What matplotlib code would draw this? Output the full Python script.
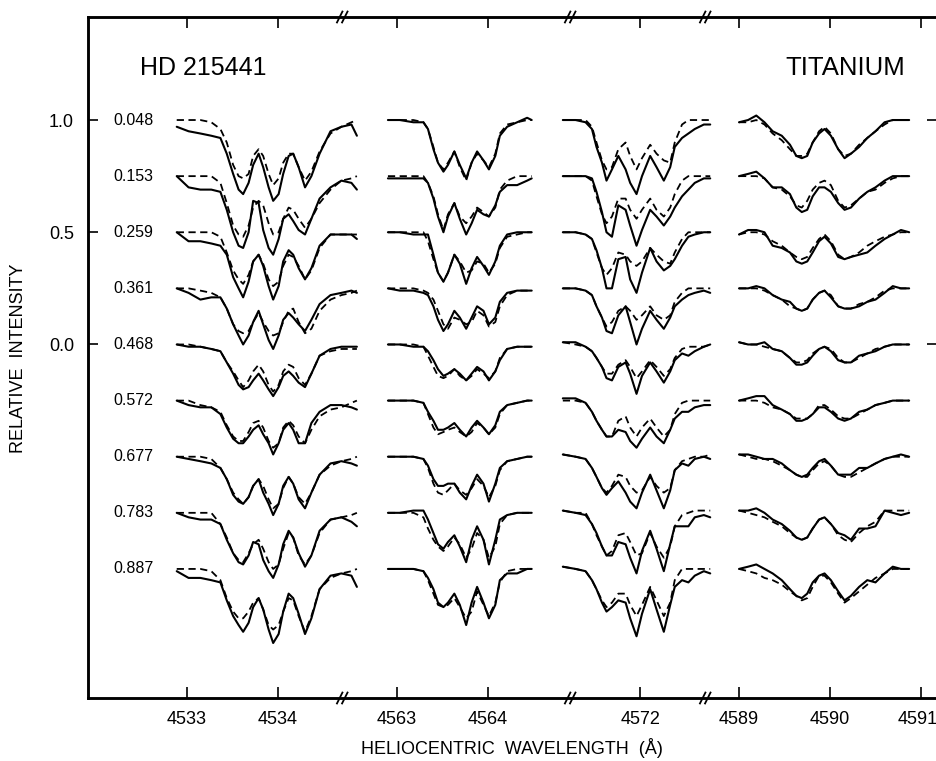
import matplotlib
matplotlib.use('Agg')
import matplotlib.pyplot as plt
from matplotlib.transforms import blended_transform_factory

plt.rcParams['font.family'] = ['Liberation Sans', 'DejaVu Sans']

# rotational phases, one spectrum per phase (offset by 0.25 each)
phases = ['0.048', '0.153', '0.259', '0.361', '0.468', '0.572', '0.677', '0.783', '0.887']

# ---- panel 1 : Ti II 4533.97
p1_wave = [4532.89, 4533.02, 4533.15, 4533.27, 4533.37, 4533.44, 4533.51, 4533.57, 4533.62,
           4533.68, 4533.73, 4533.79, 4533.84, 4533.90, 4533.95, 4534.01, 4534.06, 4534.12,
           4534.17, 4534.23, 4534.30, 4534.37, 4534.46, 4534.58, 4534.70, 4534.81, 4534.87]
p1_obs = [
    [0.97, 0.95, 0.94, 0.93, 0.92, 0.85, 0.76, 0.69, 0.67, 0.72, 0.80, 0.85, 0.79, 0.70, 0.64, 0.67, 0.76, 0.84, 0.85, 0.79, 0.70, 0.75, 0.85, 0.95, 0.97, 0.98, 0.93],
    [1.00, 0.95, 0.94, 0.94, 0.93, 0.85, 0.75, 0.69, 0.68, 0.75, 0.89, 0.88, 0.76, 0.68, 0.65, 0.72, 0.81, 0.83, 0.80, 0.76, 0.74, 0.81, 0.90, 0.95, 0.98, 0.97, 0.94],
    [1.00, 0.96, 0.96, 0.95, 0.94, 0.90, 0.80, 0.75, 0.71, 0.78, 0.87, 0.90, 0.85, 0.76, 0.70, 0.76, 0.87, 0.92, 0.90, 0.84, 0.79, 0.84, 0.94, 0.99, 0.99, 0.99, 0.97],
    [1.00, 0.98, 0.95, 0.96, 0.96, 0.91, 0.84, 0.79, 0.75, 0.79, 0.85, 0.90, 0.84, 0.77, 0.73, 0.79, 0.86, 0.89, 0.87, 0.84, 0.81, 0.86, 0.93, 0.97, 0.98, 0.99, 0.98],
    [1.00, 0.99, 0.99, 0.98, 0.97, 0.92, 0.87, 0.82, 0.80, 0.81, 0.84, 0.87, 0.84, 0.80, 0.77, 0.81, 0.86, 0.88, 0.86, 0.83, 0.81, 0.87, 0.95, 0.98, 0.99, 0.99, 0.99],
    [1.00, 0.98, 0.97, 0.97, 0.94, 0.88, 0.83, 0.81, 0.81, 0.84, 0.87, 0.89, 0.85, 0.81, 0.76, 0.81, 0.87, 0.90, 0.87, 0.81, 0.81, 0.90, 0.95, 0.98, 0.98, 0.97, 0.96],
    [1.00, 0.99, 0.98, 0.97, 0.95, 0.90, 0.83, 0.80, 0.79, 0.82, 0.87, 0.90, 0.84, 0.79, 0.74, 0.79, 0.87, 0.91, 0.88, 0.81, 0.77, 0.84, 0.92, 0.97, 0.98, 0.97, 0.96],
    [1.00, 0.98, 0.97, 0.97, 0.95, 0.88, 0.82, 0.78, 0.77, 0.81, 0.87, 0.86, 0.79, 0.74, 0.71, 0.77, 0.86, 0.92, 0.89, 0.82, 0.76, 0.81, 0.92, 0.97, 0.98, 0.96, 0.94],
    [0.99, 0.96, 0.96, 0.95, 0.94, 0.86, 0.79, 0.75, 0.72, 0.76, 0.83, 0.87, 0.82, 0.73, 0.67, 0.71, 0.81, 0.89, 0.87, 0.80, 0.71, 0.78, 0.91, 0.97, 0.98, 0.97, 0.92],
]
p1_calc = [
    [1.00, 1.00, 1.00, 0.99, 0.96, 0.90, 0.80, 0.75, 0.74, 0.76, 0.84, 0.87, 0.84, 0.76, 0.71, 0.74, 0.81, 0.85, 0.85, 0.79, 0.73, 0.77, 0.86, 0.94, 0.97, 0.99, 1.00],
    [1.00, 1.00, 1.00, 1.00, 0.97, 0.88, 0.78, 0.74, 0.73, 0.78, 0.86, 0.89, 0.87, 0.79, 0.74, 0.75, 0.81, 0.86, 0.85, 0.81, 0.77, 0.81, 0.88, 0.94, 0.98, 0.99, 1.00],
    [1.00, 1.00, 1.00, 1.00, 0.98, 0.91, 0.83, 0.79, 0.77, 0.81, 0.87, 0.90, 0.86, 0.79, 0.76, 0.78, 0.85, 0.90, 0.89, 0.85, 0.79, 0.83, 0.93, 0.99, 0.99, 0.99, 0.99],
    [1.00, 1.00, 0.99, 0.98, 0.96, 0.91, 0.84, 0.81, 0.80, 0.81, 0.85, 0.89, 0.85, 0.81, 0.79, 0.80, 0.85, 0.90, 0.91, 0.85, 0.80, 0.82, 0.90, 0.95, 0.97, 0.98, 0.99],
    [1.00, 1.00, 0.99, 0.98, 0.97, 0.92, 0.88, 0.84, 0.81, 0.84, 0.88, 0.91, 0.88, 0.82, 0.79, 0.82, 0.88, 0.91, 0.90, 0.85, 0.82, 0.87, 0.95, 0.97, 0.98, 0.98, 0.98],
    [1.00, 1.00, 0.98, 0.97, 0.95, 0.89, 0.84, 0.82, 0.82, 0.86, 0.90, 0.91, 0.88, 0.82, 0.79, 0.81, 0.88, 0.91, 0.89, 0.84, 0.81, 0.87, 0.93, 0.96, 0.97, 0.99, 1.00],
    [1.00, 1.00, 1.00, 0.99, 0.95, 0.90, 0.84, 0.81, 0.79, 0.82, 0.87, 0.90, 0.87, 0.81, 0.77, 0.79, 0.86, 0.91, 0.88, 0.82, 0.79, 0.84, 0.92, 0.96, 0.98, 0.99, 1.00],
    [1.00, 1.00, 1.00, 1.00, 0.95, 0.89, 0.82, 0.79, 0.78, 0.82, 0.86, 0.88, 0.84, 0.78, 0.75, 0.77, 0.84, 0.91, 0.89, 0.81, 0.77, 0.81, 0.91, 0.97, 0.98, 0.99, 1.00],
    [1.00, 1.00, 1.00, 0.99, 0.95, 0.87, 0.81, 0.78, 0.78, 0.81, 0.85, 0.87, 0.82, 0.75, 0.73, 0.75, 0.81, 0.87, 0.86, 0.79, 0.72, 0.79, 0.91, 0.96, 0.98, 0.99, 1.00],
]

# ---- panel 2 : Ti I 4563.76
p2_wave = [4562.90, 4563.03, 4563.18, 4563.29, 4563.34, 4563.40, 4563.45, 4563.51, 4563.56, 4563.63, 4563.69,
           4563.76, 4563.82, 4563.88, 4563.95, 4564.01, 4564.08, 4564.13, 4564.21, 4564.32, 4564.43, 4564.48]
p2_obs = [
    [1.00, 1.00, 0.99, 0.99, 0.96, 0.87, 0.81, 0.77, 0.80, 0.86, 0.80, 0.74, 0.81, 0.86, 0.82, 0.78, 0.84, 0.93, 0.97, 0.99, 1.01, 1.00],
    [0.99, 0.99, 0.99, 0.99, 0.97, 0.90, 0.82, 0.75, 0.82, 0.88, 0.81, 0.74, 0.79, 0.85, 0.83, 0.82, 0.87, 0.93, 0.96, 0.96, 0.98, 0.99],
    [1.00, 1.00, 0.99, 0.99, 0.99, 0.90, 0.82, 0.78, 0.82, 0.90, 0.86, 0.77, 0.84, 0.89, 0.85, 0.81, 0.87, 0.94, 0.99, 1.00, 1.00, 1.00],
    [1.00, 0.99, 0.99, 0.98, 0.97, 0.92, 0.86, 0.81, 0.84, 0.90, 0.87, 0.82, 0.87, 0.92, 0.90, 0.84, 0.87, 0.94, 0.98, 0.99, 0.99, 0.99],
    [1.00, 1.00, 0.99, 0.99, 0.97, 0.93, 0.89, 0.86, 0.87, 0.89, 0.87, 0.84, 0.87, 0.90, 0.88, 0.84, 0.88, 0.93, 0.98, 0.99, 0.99, 0.99],
    [1.00, 1.00, 1.00, 0.99, 0.95, 0.91, 0.87, 0.87, 0.88, 0.90, 0.87, 0.84, 0.88, 0.91, 0.88, 0.85, 0.89, 0.95, 0.98, 0.99, 1.00, 1.00],
    [1.00, 1.00, 1.00, 0.99, 0.96, 0.90, 0.87, 0.87, 0.88, 0.88, 0.84, 0.81, 0.87, 0.92, 0.88, 0.80, 0.88, 0.95, 0.98, 0.99, 1.00, 1.00],
    [1.00, 1.00, 1.01, 1.01, 0.97, 0.91, 0.86, 0.84, 0.87, 0.90, 0.85, 0.78, 0.88, 0.94, 0.88, 0.77, 0.88, 0.97, 0.99, 1.00, 1.00, 1.00],
    [1.00, 1.00, 1.00, 0.99, 0.96, 0.91, 0.85, 0.83, 0.85, 0.89, 0.84, 0.75, 0.85, 0.92, 0.85, 0.78, 0.84, 0.95, 0.98, 0.98, 1.00, 1.00],
]
p2_calc = [
    [1.00, 1.00, 1.00, 0.99, 0.96, 0.88, 0.81, 0.78, 0.81, 0.86, 0.79, 0.73, 0.81, 0.85, 0.82, 0.79, 0.85, 0.94, 0.98, 0.99, 1.00, 1.00],
    [1.00, 1.00, 1.00, 1.00, 0.97, 0.91, 0.83, 0.76, 0.83, 0.88, 0.82, 0.79, 0.82, 0.86, 0.84, 0.82, 0.86, 0.94, 0.98, 1.00, 1.00, 1.00],
    [1.00, 1.00, 1.00, 1.00, 0.96, 0.88, 0.82, 0.78, 0.82, 0.90, 0.87, 0.82, 0.83, 0.87, 0.86, 0.82, 0.86, 0.93, 0.98, 0.99, 1.00, 1.00],
    [1.00, 1.00, 1.00, 0.99, 0.98, 0.95, 0.90, 0.84, 0.82, 0.87, 0.86, 0.84, 0.85, 0.90, 0.88, 0.83, 0.85, 0.92, 0.97, 0.99, 0.99, 0.99],
    [1.00, 1.00, 1.00, 0.99, 0.95, 0.90, 0.86, 0.85, 0.86, 0.89, 0.86, 0.84, 0.86, 0.89, 0.87, 0.85, 0.88, 0.94, 0.98, 0.99, 0.99, 0.99],
    [1.00, 1.00, 1.00, 0.99, 0.94, 0.88, 0.85, 0.86, 0.87, 0.88, 0.86, 0.84, 0.86, 0.90, 0.88, 0.85, 0.88, 0.94, 0.98, 0.99, 1.00, 1.00],
    [1.00, 1.00, 1.00, 0.99, 0.95, 0.88, 0.84, 0.83, 0.85, 0.88, 0.85, 0.83, 0.86, 0.90, 0.87, 0.82, 0.87, 0.94, 0.98, 0.99, 1.00, 1.00],
    [1.00, 1.00, 1.00, 0.98, 0.93, 0.88, 0.85, 0.83, 0.85, 0.89, 0.86, 0.80, 0.84, 0.91, 0.88, 0.80, 0.85, 0.95, 0.99, 1.00, 1.00, 1.00],
    [1.00, 1.00, 1.00, 0.99, 0.95, 0.89, 0.84, 0.83, 0.84, 0.87, 0.83, 0.78, 0.81, 0.90, 0.84, 0.79, 0.85, 0.94, 0.99, 1.00, 1.00, 1.00],
]

# ---- panel 3 : Ti II 4571.97
p3_wave = [4571.15, 4571.29, 4571.40, 4571.47, 4571.52, 4571.58, 4571.63, 4571.69, 4571.76, 4571.84, 4571.89, 4571.96,
           4572.02, 4572.11, 4572.18, 4572.26, 4572.33, 4572.38, 4572.46, 4572.53, 4572.60, 4572.70, 4572.77]
p3_obs = [
    [1.00, 1.00, 0.99, 0.96, 0.88, 0.81, 0.73, 0.78, 0.84, 0.78, 0.72, 0.67, 0.75, 0.84, 0.79, 0.73, 0.79, 0.88, 0.92, 0.94, 0.96, 0.98, 0.98],
    [1.00, 1.00, 1.00, 0.99, 0.93, 0.84, 0.75, 0.73, 0.87, 0.85, 0.78, 0.69, 0.76, 0.85, 0.82, 0.78, 0.82, 0.86, 0.91, 0.94, 0.97, 0.99, 0.99],
    [1.00, 1.00, 0.99, 0.97, 0.92, 0.84, 0.75, 0.75, 0.88, 0.89, 0.79, 0.73, 0.82, 0.93, 0.87, 0.83, 0.85, 0.88, 0.94, 0.98, 0.99, 1.00, 1.00],
    [1.00, 1.00, 0.99, 0.97, 0.92, 0.87, 0.81, 0.80, 0.88, 0.92, 0.85, 0.75, 0.82, 0.90, 0.86, 0.82, 0.87, 0.92, 0.95, 0.97, 0.98, 0.99, 0.98],
    [1.01, 1.01, 0.99, 0.97, 0.94, 0.90, 0.85, 0.84, 0.90, 0.92, 0.87, 0.78, 0.86, 0.92, 0.88, 0.83, 0.88, 0.93, 0.96, 0.95, 0.97, 0.99, 1.00],
    [1.01, 1.01, 0.99, 0.95, 0.91, 0.87, 0.84, 0.84, 0.87, 0.86, 0.82, 0.79, 0.83, 0.88, 0.84, 0.81, 0.87, 0.92, 0.95, 0.95, 0.97, 0.98, 0.98],
    [1.01, 1.00, 0.99, 0.95, 0.91, 0.86, 0.83, 0.86, 0.89, 0.84, 0.80, 0.77, 0.84, 0.92, 0.85, 0.77, 0.85, 0.94, 0.97, 0.96, 0.99, 1.00, 0.99],
    [1.01, 1.00, 0.99, 0.95, 0.91, 0.85, 0.81, 0.81, 0.87, 0.86, 0.80, 0.73, 0.83, 0.92, 0.84, 0.74, 0.86, 0.94, 0.94, 0.94, 0.98, 0.99, 0.98],
    [1.01, 1.00, 0.99, 0.95, 0.91, 0.85, 0.81, 0.83, 0.86, 0.85, 0.78, 0.70, 0.80, 0.91, 0.82, 0.72, 0.84, 0.92, 0.95, 0.94, 0.97, 0.99, 0.98],
]
p3_calc = [
    [1.00, 1.00, 1.00, 0.97, 0.90, 0.82, 0.78, 0.79, 0.87, 0.90, 0.84, 0.78, 0.83, 0.89, 0.85, 0.82, 0.81, 0.90, 0.98, 1.00, 1.00, 1.00, 1.00],
    [1.00, 1.00, 1.00, 0.98, 0.91, 0.83, 0.79, 0.82, 0.90, 0.90, 0.85, 0.81, 0.85, 0.90, 0.85, 0.82, 0.86, 0.92, 0.98, 1.00, 1.00, 1.00, 1.00],
    [1.00, 1.00, 0.99, 0.97, 0.91, 0.84, 0.81, 0.84, 0.91, 0.90, 0.87, 0.85, 0.87, 0.93, 0.90, 0.87, 0.86, 0.91, 0.97, 1.00, 1.00, 1.00, 1.00],
    [1.00, 1.00, 0.99, 0.97, 0.92, 0.87, 0.83, 0.85, 0.90, 0.92, 0.90, 0.86, 0.88, 0.92, 0.88, 0.86, 0.88, 0.94, 0.98, 1.00, 1.00, 1.00, 1.00],
    [1.01, 1.00, 0.99, 0.97, 0.94, 0.90, 0.87, 0.87, 0.91, 0.93, 0.90, 0.85, 0.88, 0.93, 0.90, 0.86, 0.89, 0.94, 0.98, 0.99, 0.99, 0.99, 1.00],
    [1.00, 1.00, 0.99, 0.95, 0.91, 0.87, 0.84, 0.84, 0.91, 0.93, 0.88, 0.84, 0.88, 0.92, 0.88, 0.84, 0.87, 0.94, 0.99, 1.00, 1.00, 1.00, 1.00],
    [1.01, 1.00, 0.99, 0.95, 0.91, 0.86, 0.84, 0.87, 0.92, 0.91, 0.87, 0.84, 0.85, 0.91, 0.87, 0.84, 0.86, 0.94, 0.98, 0.99, 1.00, 1.00, 1.01],
    [1.01, 1.00, 1.00, 0.95, 0.90, 0.85, 0.81, 0.83, 0.90, 0.91, 0.87, 0.81, 0.82, 0.91, 0.85, 0.80, 0.85, 0.94, 0.99, 1.00, 1.01, 1.01, 1.01],
    [1.01, 1.00, 0.99, 0.95, 0.91, 0.86, 0.83, 0.85, 0.89, 0.89, 0.84, 0.79, 0.84, 0.92, 0.86, 0.79, 0.85, 0.95, 1.00, 1.00, 1.00, 1.00, 1.00],
]

# ---- panel 4 : Ti II 4589.96
p4_wave = [4589.00, 4589.10, 4589.19, 4589.28, 4589.37, 4589.47, 4589.56, 4589.63, 4589.69, 4589.75, 4589.81, 4589.88,
           4589.94, 4590.01, 4590.09, 4590.16, 4590.23, 4590.32, 4590.41, 4590.50, 4590.60, 4590.69, 4590.78, 4590.87]
p4_obs = [
    [0.99, 1.00, 1.02, 0.99, 0.95, 0.93, 0.89, 0.84, 0.83, 0.84, 0.90, 0.94, 0.96, 0.93, 0.87, 0.83, 0.85, 0.88, 0.92, 0.95, 0.99, 1.00, 1.00, 1.00],
    [1.00, 1.01, 1.02, 0.99, 0.95, 0.95, 0.92, 0.86, 0.84, 0.85, 0.91, 0.95, 0.95, 0.93, 0.88, 0.85, 0.86, 0.90, 0.93, 0.95, 0.98, 1.00, 1.00, 1.00],
    [0.99, 1.01, 1.01, 1.00, 0.94, 0.93, 0.91, 0.87, 0.86, 0.87, 0.91, 0.96, 0.98, 0.95, 0.89, 0.88, 0.89, 0.90, 0.91, 0.94, 0.97, 0.99, 1.01, 1.00],
    [1.00, 1.00, 1.01, 1.00, 0.97, 0.95, 0.94, 0.91, 0.90, 0.91, 0.95, 0.98, 0.99, 0.96, 0.92, 0.91, 0.91, 0.92, 0.94, 0.95, 0.98, 1.01, 1.00, 1.00],
    [1.01, 1.00, 1.00, 1.01, 0.98, 0.97, 0.94, 0.91, 0.91, 0.92, 0.95, 0.98, 0.99, 0.97, 0.93, 0.92, 0.92, 0.95, 0.96, 0.97, 0.99, 1.00, 1.00, 1.00],
    [1.00, 1.01, 1.02, 1.02, 0.98, 0.96, 0.94, 0.91, 0.91, 0.92, 0.94, 0.97, 0.97, 0.95, 0.92, 0.91, 0.92, 0.95, 0.96, 0.98, 0.99, 1.00, 1.00, 1.00],
    [1.01, 1.01, 1.00, 0.99, 0.99, 0.97, 0.94, 0.92, 0.91, 0.92, 0.95, 0.98, 0.99, 0.96, 0.92, 0.92, 0.92, 0.95, 0.95, 0.97, 0.99, 1.00, 1.01, 1.00],
    [1.01, 1.01, 1.02, 1.00, 0.97, 0.95, 0.92, 0.89, 0.88, 0.89, 0.93, 0.97, 0.98, 0.95, 0.91, 0.90, 0.88, 0.93, 0.93, 0.94, 1.01, 1.00, 0.99, 1.00],
    [1.00, 1.01, 1.02, 1.00, 0.98, 0.95, 0.91, 0.88, 0.87, 0.89, 0.94, 0.97, 0.98, 0.95, 0.90, 0.86, 0.88, 0.92, 0.95, 0.94, 0.98, 1.01, 1.00, 1.00],
]
p4_calc = [
    [0.99, 0.99, 1.00, 0.98, 0.94, 0.91, 0.87, 0.84, 0.84, 0.85, 0.90, 0.95, 0.97, 0.94, 0.87, 0.84, 0.85, 0.89, 0.92, 0.95, 0.98, 1.00, 1.00, 1.00],
    [1.00, 1.00, 1.00, 0.99, 0.95, 0.94, 0.91, 0.87, 0.86, 0.89, 0.94, 0.97, 0.98, 0.96, 0.89, 0.86, 0.87, 0.90, 0.93, 0.94, 0.97, 0.99, 1.00, 1.00],
    [0.99, 1.00, 1.00, 0.99, 0.96, 0.94, 0.91, 0.89, 0.88, 0.89, 0.93, 0.97, 0.99, 0.96, 0.90, 0.88, 0.89, 0.91, 0.94, 0.96, 0.98, 0.99, 1.00, 1.00],
    [1.00, 1.00, 1.00, 0.99, 0.97, 0.95, 0.92, 0.91, 0.90, 0.91, 0.95, 0.98, 0.99, 0.97, 0.92, 0.91, 0.91, 0.93, 0.94, 0.96, 0.99, 1.00, 1.00, 1.00],
    [1.01, 1.00, 1.00, 0.99, 0.98, 0.97, 0.94, 0.92, 0.92, 0.93, 0.96, 0.98, 0.99, 0.98, 0.94, 0.92, 0.92, 0.94, 0.96, 0.98, 0.99, 1.00, 1.00, 1.00],
    [1.00, 1.00, 1.00, 0.99, 0.97, 0.96, 0.94, 0.92, 0.92, 0.92, 0.94, 0.98, 0.98, 0.96, 0.93, 0.92, 0.92, 0.94, 0.96, 0.98, 0.99, 1.00, 1.00, 1.00],
    [1.01, 1.00, 0.99, 0.99, 0.98, 0.96, 0.94, 0.92, 0.91, 0.91, 0.94, 0.97, 0.98, 0.96, 0.92, 0.91, 0.91, 0.93, 0.95, 0.97, 0.99, 1.00, 1.00, 1.00],
    [1.01, 1.00, 0.99, 0.98, 0.96, 0.94, 0.91, 0.89, 0.88, 0.89, 0.93, 0.97, 0.98, 0.95, 0.90, 0.88, 0.87, 0.91, 0.94, 0.96, 1.01, 1.01, 1.01, 1.01],
    [1.00, 0.99, 0.98, 0.96, 0.95, 0.93, 0.90, 0.88, 0.86, 0.87, 0.92, 0.97, 0.97, 0.94, 0.89, 0.85, 0.87, 0.90, 0.93, 0.96, 0.98, 1.00, 1.00, 1.00],
]

panels = [(p1_wave, p1_obs, p1_calc), (p2_wave, p2_obs, p2_calc),
          (p3_wave, p3_obs, p3_calc), (p4_wave, p4_obs, p4_calc)]
tick_waves = [[4533, 4534], [4563, 4564], [4572], [4589, 4590, 4591]]

# broken x axis: each panel's reference wavelength and where it sits on the common axis
panel_ref = [4533.0, 4563.0, 4572.0, 4589.0]
panel_pos = [0.0, 2.311, 4.983, 6.069]
breaks = [1.709, 4.214, 5.698]
step = 0.25

fig = plt.figure(figsize=(9.36, 7.61), dpi=100)
ax = fig.add_axes([88 / 936, 1 - 698 / 761, 849 / 936, 681 / 761])
ax.set_xlim(-1.085, 8.245)
ax.set_ylim(-1.575, 1.459)

for k, (wave, obs, calc) in enumerate(panels):
    xs = [w - panel_ref[k] + panel_pos[k] for w in wave]
    for i in range(len(phases)):
        ax.plot(xs, [r - step * i for r in obs[i]], color='black', lw=1.5,
                solid_joinstyle='round', solid_capstyle='round')
        ax.plot(xs, [r - step * i for r in calc[i]], color='black', lw=1.3,
                linestyle=(0, (4, 2.5)))

for i, ph in enumerate(phases):
    ax.text(-0.81, 1 - step * i, ph, ha='left', va='center', fontsize=11.5)

# ticks
xt, xl = [], []
for k in range(4):
    for w in tick_waves[k]:
        xt.append(w - panel_ref[k] + panel_pos[k])
        xl.append(str(w))
ax.set_xticks(xt)
ax.set_xticklabels(xl[:-1] + [''])
ax.set_yticks([0.0, 0.5, 1.0])
ax.set_yticklabels(['0.0', '0.5', '1.0'])
ax.tick_params(axis='x', direction='in', top=True, length=8, width=1.2,
               labelsize=13, pad=9)
ax.tick_params(axis='y', direction='in', length=7, width=1.2, labelsize=13, pad=10)

ax2 = ax.twinx()
ax2.set_ylim(ax.get_ylim())
ax2.set_yticks([0.0, 1.0])
ax2.set_yticklabels([])
ax2.tick_params(axis='y', direction='in', length=7, width=1.2)

for a in (ax, ax2):
    for s in a.spines.values():
        s.set_linewidth(1.8)

trans = blended_transform_factory(ax.transData, ax.transAxes)
# last tick label sits against the right edge of the page
ax.text(xt[-1] - 0.04, -0.0184, xl[-1], transform=trans, ha='center', va='top',
        fontsize=13)

# break marks on top and bottom
for b in breaks:
    for yb in (0.0, 1.0):
        for off in (-0.028, 0.028):
            ax.plot([b + off - 0.03, b + off + 0.03], [yb - 0.008, yb + 0.008],
                    color='black', lw=1.3, transform=trans, clip_on=False)

ax.text(-0.513, 1.232, 'HD 215441', ha='left', va='center', fontsize=18)
ax.text(7.894, 1.232, 'TITANIUM', ha='right', va='center', fontsize=18.5)

fig.text(512 / 936, 1 - 748 / 761, 'HELIOCENTRIC  WAVELENGTH  (Å)',
         ha='center', va='center', fontsize=13)
fig.text(19 / 936, 1 - 358 / 761, 'RELATIVE  INTENSITY', rotation=90,
         ha='center', va='center', fontsize=13)

fig.savefig('out.png', dpi=100)
